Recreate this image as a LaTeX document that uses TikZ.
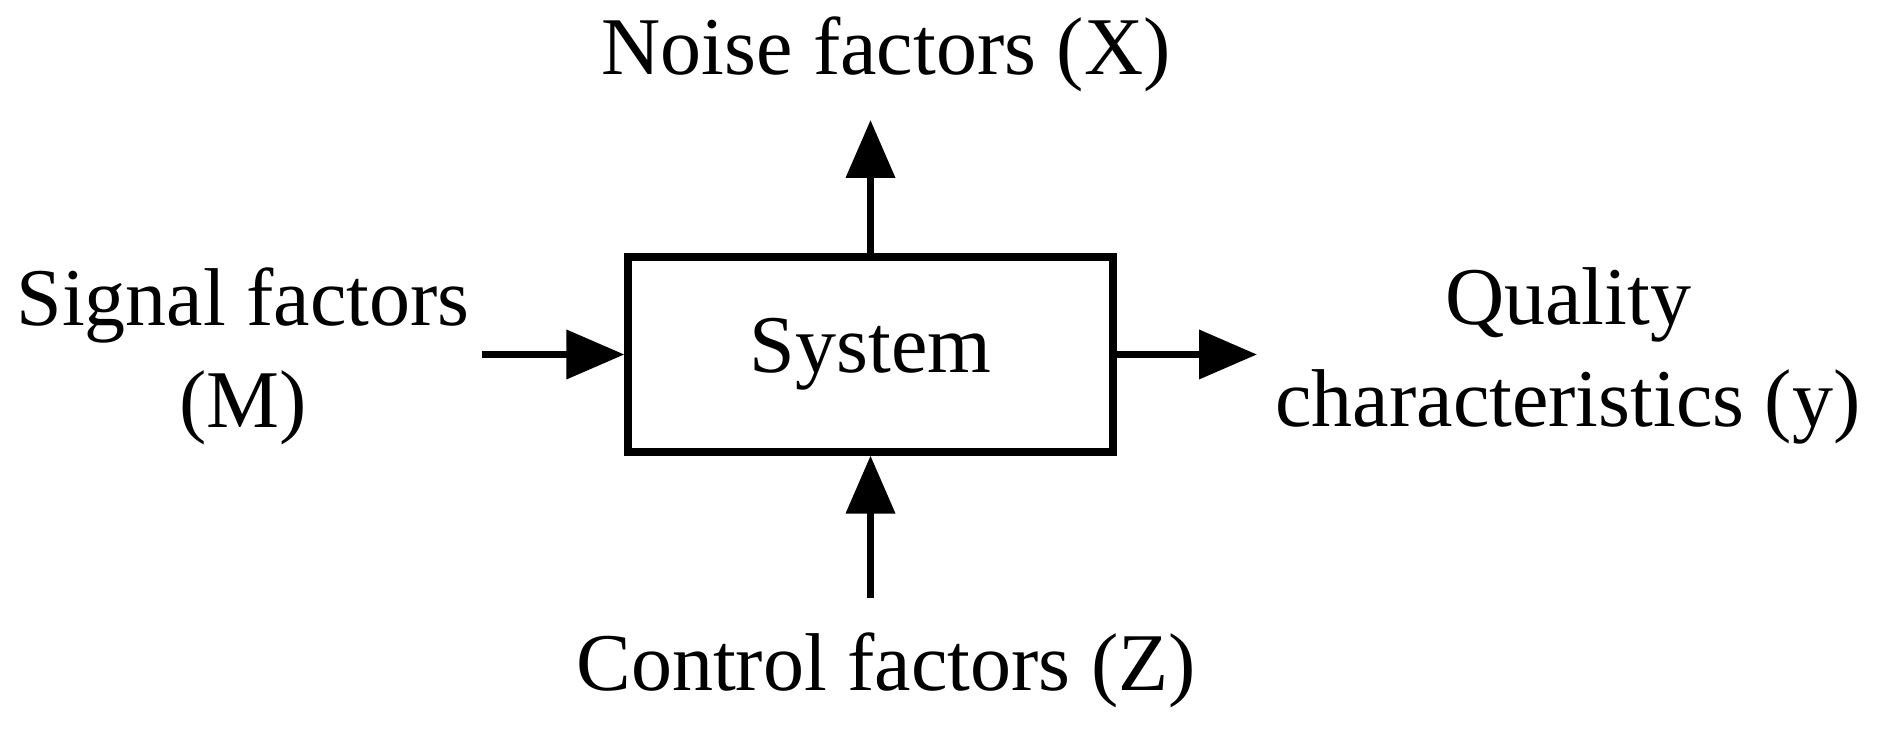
\documentclass[tikz,border=0pt]{standalone}
\usepackage{fontspec}
\setmainfont{Liberation Serif}
\usetikzlibrary{arrows.meta}
\begin{document}
\begin{tikzpicture}[x=0.5pt,y=0.5pt,
  lbl/.style={font=\fontsize{41}{51}\selectfont, align=center, inner sep=0},
  arr/.style={line width=3.6pt, -{Triangle[length=29pt,width=24pt]}}]
\useasboundingbox (0,0) rectangle (1877,737);
\node[draw, line width=3.6pt, inner sep=0,
  minimum width=242.5pt, minimum height=97.5pt, lbl] (sys) at (870.5,382.5) {System};
\coordinate (sin) at (482,382.5);
\coordinate (qout) at (1257,382.5);
\coordinate (nout) at (870.5,617);
\coordinate (cin) at (870.5,139);
\draw[arr] (sin) -- (sys.west);
\draw[arr] (sys.east) -- (qout);
\draw[arr] (sys.north) -- (nout);
\draw[arr] (cin) -- (sys.south);
\node[lbl] (noise) at (886,683) {Noise factors (X)};
\node[lbl] (sig) at (243,381) {Signal factors\\(M)};
\node[lbl] (qual) at (1568,381) {Quality\\characteristics (y)};
\node[lbl] (ctrl) at (886,67) {Control factors (Z)};
\end{tikzpicture}
\end{document}
